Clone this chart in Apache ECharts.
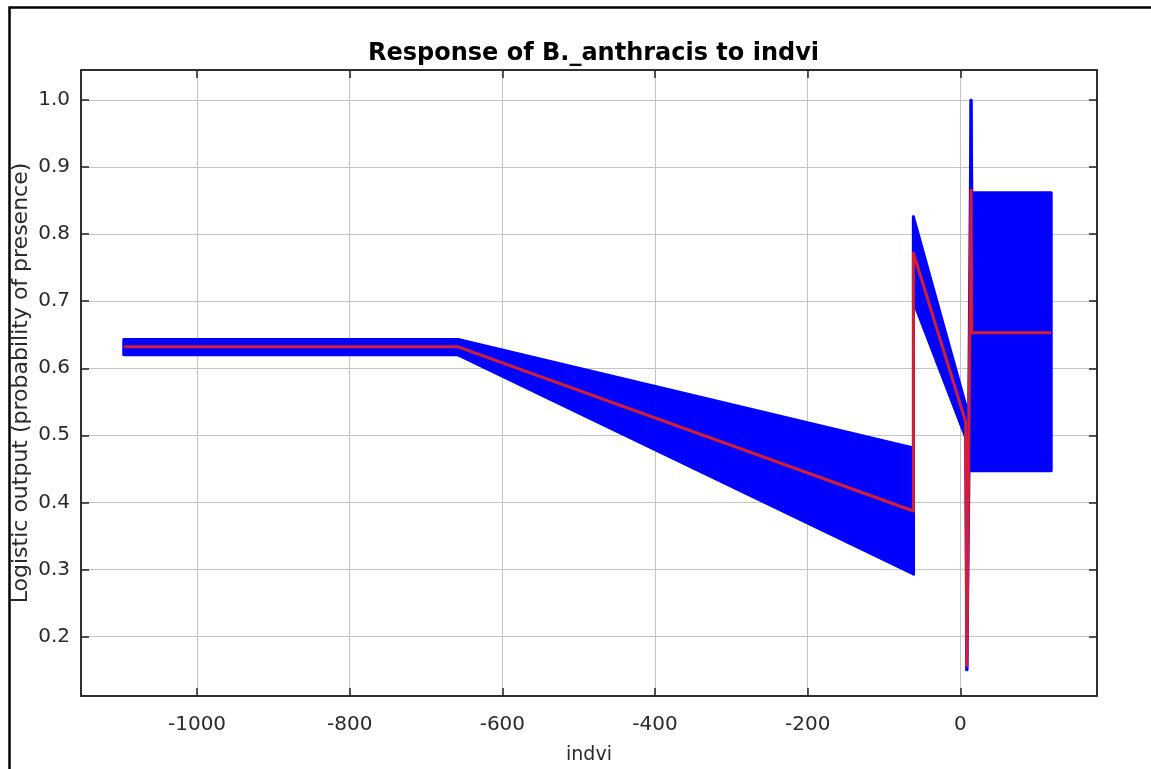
<!DOCTYPE html>
<html>
<head>
<meta charset="utf-8">
<script src="https://cdn.jsdelivr.net/npm/echarts@6/dist/echarts.min.js"></script>
<style>
  html, body { margin: 0; padding: 0; background: #fff; }
  #chart { width: 1151px; height: 769px; }
</style>
</head>
<body>
<div id="chart"></div>
<script>
// Response curve: mean logistic output (red) with +/- one standard deviation band (blue)
const indvi  = [-1096, -658, -61.5, -61.5, 7, 8.5, 14, 15, 119];
const meanP  = [0.632, 0.632, 0.387, 0.772, 0.520, 0.156, 0.866, 0.653, 0.653];
const upperP = [0.643, 0.643, 0.481, 0.826, 0.545, 0.165, 1.000, 0.862, 0.862];
const lowerP = [0.620, 0.620, 0.293, 0.700, 0.497, 0.150, 0.730, 0.447, 0.447];

const xTicks = [-1000, -800, -600, -400, -200, 0];
const yTicks = [0.2, 0.3, 0.4, 0.5, 0.6, 0.7, 0.8, 0.9, 1.0];

const X_MIN = -1152, X_MAX = 179;
const Y_MIN = 0.111, Y_MAX = 1.045;

// band segments: [x0, hi0, lo0, x1, hi1, lo1]
const bandSegments = [];
for (let i = 0; i < indvi.length - 1; i++) {
  bandSegments.push([indvi[i], upperP[i], lowerP[i], indvi[i + 1], upperP[i + 1], lowerP[i + 1]]);
}
const meanLine = indvi.map((x, i) => [x, meanP[i]]);

const FONT = '"DejaVu Sans", Verdana, sans-serif';
const tickColor = '#222';
const textColor = '#2a2a2a';

const chart = echarts.init(document.getElementById('chart'), null, { renderer: 'canvas' });
chart.setOption({
  backgroundColor: '#fff',
  animation: false,
  title: {
    text: 'Response of B._anthracis to indvi',
    left: 588.5, textAlign: 'center', top: 37,
    textStyle: { fontFamily: FONT, fontSize: 24, fontWeight: 'bold', color: '#000' }
  },
  graphic: [{
    type: 'rect', left: 7, top: 5, silent: true,
    shape: { width: 1200, height: 820 },
    style: { fill: 'none', stroke: '#000', lineWidth: 2.5 }
  }],
  grid: {
    left: 81, top: 70, right: 54, bottom: 73,
    outerBoundsMode: 'none', containLabel: false,
    show: true, borderColor: '#222', borderWidth: 1.5, backgroundColor: '#fff'
  },
  xAxis: [{
    type: 'value', min: X_MIN, max: X_MAX,
    name: 'indvi', nameLocation: 'middle', nameGap: 50, nameMoveOverlap: false,
    nameTextStyle: { fontFamily: FONT, fontSize: 19, color: textColor },
    axisLine: { show: true, onZero: false, lineStyle: { color: tickColor, width: 1.5 } },
    axisTick: { show: true, inside: true, length: 8, customValues: xTicks, lineStyle: { color: tickColor, width: 1.5 } },
    axisLabel: { customValues: xTicks, margin: 19, fontFamily: FONT, fontSize: 20, color: textColor,
      formatter: v => String(v) },
    splitLine: { show: true, lineStyle: { color: '#c4c4c4', width: 1 } }
  }, {
    type: 'value', min: X_MIN, max: X_MAX, position: 'top',
    axisLine: { show: true, onZero: false, lineStyle: { color: tickColor, width: 1.5 } },
    axisTick: { show: true, inside: true, length: 8, customValues: xTicks, lineStyle: { color: tickColor, width: 1.5 } },
    axisLabel: { show: false },
    splitLine: { show: false }
  }],
  yAxis: [{
    type: 'value', min: Y_MIN, max: Y_MAX,
    name: 'Logistic output (probability of presence)', nameLocation: 'middle', nameGap: 49, nameMoveOverlap: false,
    nameTextStyle: { fontFamily: FONT, fontSize: 22, color: textColor },
    axisLine: { show: true, onZero: false, lineStyle: { color: tickColor, width: 1.5 } },
    axisTick: { show: true, inside: true, length: 8, customValues: yTicks, lineStyle: { color: tickColor, width: 1.5 } },
    axisLabel: { customValues: yTicks, margin: 11, fontFamily: FONT, fontSize: 20, color: textColor,
      formatter: v => v.toFixed(1) },
    splitLine: { show: true, lineStyle: { color: '#c4c4c4', width: 1 } }
  }, {
    type: 'value', min: Y_MIN, max: Y_MAX, position: 'right',
    axisLine: { show: true, onZero: false, lineStyle: { color: tickColor, width: 1.5 } },
    axisTick: { show: true, inside: true, length: 8, customValues: yTicks, lineStyle: { color: tickColor, width: 1.5 } },
    axisLabel: { show: false },
    splitLine: { show: false }
  }],
  series: [{
    type: 'custom',
    name: 'band',
    xAxisIndex: 0, yAxisIndex: 0,
    clip: true,
    encode: { x: [0, 3], y: [1, 2, 4, 5] },
    data: bandSegments,
    renderItem: function (params, api) {
      const p1 = api.coord([api.value(0), api.value(1)]);
      const p2 = api.coord([api.value(3), api.value(4)]);
      const p3 = api.coord([api.value(3), api.value(5)]);
      const p4 = api.coord([api.value(0), api.value(2)]);
      return {
        type: 'polygon',
        shape: { points: [p1, p2, p3, p4] },
        style: { fill: '#0000ff', stroke: '#0000ff', lineWidth: 3, lineJoin: 'round' }
      };
    },
    z: 2
  }, {
    type: 'line',
    name: 'mean',
    xAxisIndex: 0, yAxisIndex: 0,
    data: meanLine,
    showSymbol: false,
    lineStyle: { color: '#d41e32', width: 3, join: 'round' },
    z: 3
  }]
});
</script>
</body>
</html>
